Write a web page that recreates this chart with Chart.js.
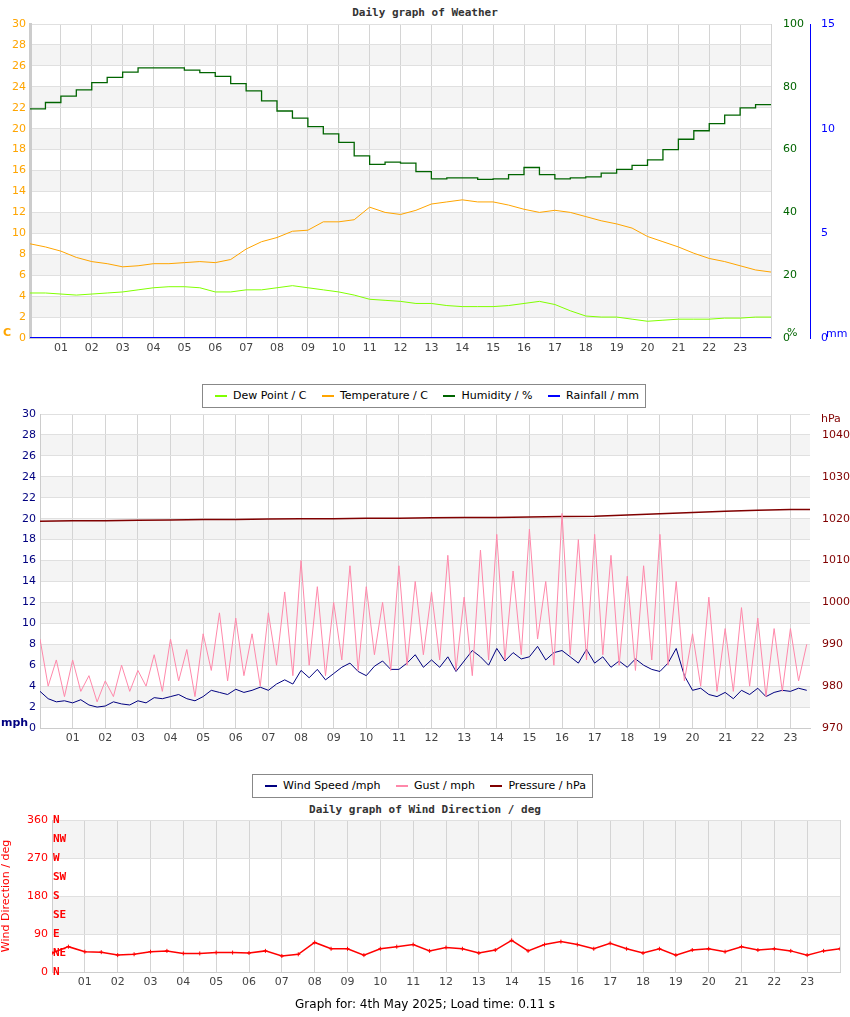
<!DOCTYPE html>
<html lang="en">
<head>
<meta charset="UTF-8" />
<title>Daily graph of Weather</title>
<script src="https://cdn.jsdelivr.net/npm/chart.js"></script>
<style>
  body { margin: 0; background: #fff; font-family: 'DejaVu Sans', sans-serif; }
  #page { position: relative; width: 850px; height: 1017px; }
  canvas { position: absolute; left: 0; }
  .title { position: absolute; left: 0; width: 850px; text-align: center; font: bold 11px 'DejaVu Sans Mono', monospace; color: #333; }
  .lbl { position: absolute; font-size: 11px; }
  .legend { position: absolute; background: #fff; border: 1px solid #888; font-size: 11px; height: 22px; line-height: 22px; padding: 0 6px; white-space: nowrap; z-index: 2; }
  .legend span.sw { display: inline-block; width: 12px; height: 2px; vertical-align: middle; margin: 0 6px 0 6px; }
</style>
</head>
<body>
<div id="page">
  <div class="title" style="top:6px">Daily graph of Weather</div>
  <canvas id="weather" width="850" height="360" style="top:0"></canvas>
  <span class="lbl" style="left:3px;top:326px;color:#ffa500;font-weight:bold">C</span>
  <span class="lbl" style="left:787px;top:326px;color:#006400">%</span>
  <span class="lbl" style="left:826px;top:327px;color:#0000ff">mm</span>

  <div class="legend" style="left:202px;top:384px">
    <span class="sw" style="background:#80ff00"></span>Dew Point / C
    <span class="sw" style="background:#ffa500;margin-left:12px"></span>Temperature / C
    <span class="sw" style="background:#006400;margin-left:12px"></span>Humidity / %
    <span class="sw" style="background:#0000ff;margin-left:12px"></span>Rainfall / mm
  </div>

  <canvas id="wind" width="850" height="350" style="top:400px"></canvas>
  <span class="lbl" style="left:821px;top:412px;color:#800000">hPa</span>
  <span class="lbl" style="left:1px;top:716px;color:#000080;font-weight:bold">mph</span>

  <div class="legend" style="left:252px;top:774px">
    <span class="sw" style="background:#000080"></span>Wind Speed /mph
    <span class="sw" style="background:#ff88aa;margin-left:12px"></span>Gust / mph
    <span class="sw" style="background:#800000;margin-left:12px"></span>Pressure / hPa
  </div>

  <div class="title" style="top:803px">Daily graph of Wind Direction / deg</div>
  <canvas id="dir" width="850" height="200" style="top:800px"></canvas>
  <div class="lbl" style="left:0;width:850px;text-align:center;top:997px;font-size:12px">Graph for: 4th May 2025; Load time: 0.11 s</div>
</div>

<script>
  // half-hourly readings, hour 0..24
  const temperature = [9.0,8.7,8.3,7.7,7.3,7.1,6.8,6.9,7.1,7.1, 7.2,7.3,7.2,7.5,8.5,9.2,9.6,10.2,10.3,11.1,
    11.1,11.3,12.5,12.0,11.8,12.2,12.8,13.0,13.2,13.0, 13.0,12.7,12.3,12.0,12.2,12.0,11.6,11.2,10.9,10.5,
    9.7,9.2,8.7,8.1,7.6,7.3,6.9,6.5,6.3];
  const dewPoint = [4.3,4.3,4.2,4.1,4.2,4.3,4.4,4.6,4.8,4.9, 4.9,4.8,4.4,4.4,4.6,4.6,4.8,5.0,4.8,4.6,
    4.4,4.1,3.7,3.6,3.5,3.3,3.3,3.1,3.0,3.0, 3.0,3.1,3.3,3.5,3.2,2.6,2.1,2.0,2.0,1.8,
    1.6,1.7,1.8,1.8,1.8,1.9,1.9,2.0,2.0];
  const humidity = [73,75,77,79,81.3,83,84.7,86,86,86, 85.3,84.5,83.3,81,78.7,75.5,72.3,70,67.3,65,
    62.3,58,55.3,56,55.7,53,50.7,51,51,50.5, 50.7,52,54.3,52,50.7,51,51.3,52.5,53.7,55,
    56.7,60,63.3,66,68.3,71,73.3,74.3,74.3];
  const rainfall = [0,0,0,0,0,0,0,0,0,0, 0,0,0,0,0,0,0,0,0,0, 0,0,0,0,0,0,0,0,0,0, 0,0,0,0,0,0,0,0,0,0, 0,0,0,0,0,0,0,0,0];

  // quarter-hourly wind, hour 0..23.5
  const windSpeed = [3.5,2.8,2.5,2.6, 2.4,2.7,2.2,2.0, 2.1,2.5,2.3,2.2, 2.6,2.4,2.9,2.8, 3.0,3.2,2.8,2.6,
    3.0,3.6,3.4,3.2, 3.7,3.4,3.6,3.9, 3.6,4.2,4.6,4.2, 5.5,4.8,5.6,4.6, 5.2,5.8,6.2,5.4,
    5.0,5.9,6.4,5.6, 5.6,6.2,7.0,5.8, 6.5,5.8,6.8,5.4, 6.4,7.4,6.8,6.0, 7.6,6.4,7.2,6.6,
    6.8,7.8,6.5,7.2, 7.4,6.8,6.2,7.5, 6.2,6.8,5.8,6.4, 5.8,6.6,6.0,5.6, 5.4,6.2,7.6,5.0,
    3.6,3.8,3.2,3.0, 3.4,2.8,3.6,3.2, 3.8,3.0,3.4,3.6, 3.5,3.8,3.6];
  const gust = [8.5,4.0,6.5,3.0, 6.5,3.5,5.0,2.5, 4.5,3.0,6.0,3.5, 5.5,4.0,7.0,3.5, 8.5,4.5,7.5,3.0,
    9.0,5.5,11.0,4.5, 10.5,5.0,9.0,4.0, 11.0,6.0,13.0,5.0, 16.0,6.0,13.5,5.0, 12.0,6.5,15.5,5.5,
    13.5,7.0,12.0,5.5, 15.5,6.0,14.0,7.0, 13.0,6.5,16.5,5.5, 12.5,5.0,17.0,6.5, 18.5,6.5,15.0,7.0,
    19.0,8.5,14.0,6.0, 20.5,7.0,18.0,6.5, 18.5,7.0,16.5,6.0, 14.5,5.5,15.5,6.5, 18.5,6.0,14.0,4.5,
    9.0,4.0,12.5,3.5, 9.5,3.5,11.5,4.0, 10.5,3.0,9.5,3.5, 9.5,4.5,8.0];
  // hourly pressure, hour 0..23 then 23.6
  const pressureHours = [0,1,2,3,4,5,6,7,8,9,10,11,12,13,14,15,16,17,18,19,20,21,22,23,23.6];
  const pressure = [1019.4,1019.5,1019.5,1019.6,1019.7,1019.8,1019.8,1019.9,1020,1020,1020.1,1020.1,
    1020.2,1020.3,1020.3,1020.4,1020.5,1020.6,1020.9,1021.2,1021.5,1021.8,1022,1022.2,1022.2];

  // half-hourly wind direction, hour 0..24
  const windDir = [45,60,48,47,40,42,48,50,44,44, 46,46,45,50,38,42,70,55,55,40,
    55,60,65,50,58,55,45,52,75,50, 65,72,65,55,68,55,45,55,40,52,
    55,48,60,52,55,50,40,50,55];
  const compass = ['N','NE','E','SE','S','SW','W','NW','N'];

  const halfHours = temperature.map((_, i) => i / 2);
  const quarterHours = windSpeed.map((_, i) => i / 4);
  const pts = (xs, ys) => ys.map((y, i) => ({ x: xs[i], y }));

  Chart.defaults.font.family = "'DejaVu Sans', sans-serif";
  Chart.defaults.font.size = 11;
  Chart.defaults.animation = false;
  Chart.defaults.plugins.legend.display = false;
  Chart.defaults.plugins.tooltip.enabled = false;

  const bands = {
    id: 'bands',
    beforeDraw(chart, args, opts) {
      const { ctx, chartArea: a } = chart;
      const y = chart.scales.y;
      ctx.save();
      ctx.fillStyle = '#f4f4f4';
      opts.list.forEach(([lo, hi]) => {
        const top = y.getPixelForValue(hi), bot = y.getPixelForValue(lo);
        ctx.fillRect(a.left, top, a.right - a.left, bot - top);
      });
      ctx.restore();
    }
  };

  const fix = (prop, v) => s => { s[prop] = v; };

  function xAxis(max, h) {
    return {
      type: 'linear', min: 0, max: max,
      afterFit: fix('height', h),
      afterBuildTicks: s => { s.ticks = []; for (let i = 0; i <= Math.floor(max); i++) s.ticks.push({ value: i }); },
      ticks: { color: '#444', padding: 4, callback: v => (v > 0 && v < 24) ? String(v).padStart(2, '0') : '' },
      grid: { color: '#d4d4d4', drawTicks: false },
      border: { color: '#ccc' }
    };
  }

  const line = (data, color, axis, extra) => Object.assign({
    data, borderColor: color, backgroundColor: color, borderWidth: 1, pointRadius: 0, yAxisID: axis
  }, extra || {});

  new Chart(document.getElementById('weather'), {
    type: 'line',
    data: { datasets: [
      line(pts(halfHours, rainfall), '#0000ff', 'rain', { borderWidth: 2 }),
      line(pts(halfHours, dewPoint), '#80ff00', 'y'),
      line(pts(halfHours, temperature), '#ffa500', 'y'),
      line(pts(halfHours, humidity), '#006400', 'hum', { stepped: true, borderWidth: 1.3 })
    ] },
    options: {
      responsive: false,
      layout: { padding: { top: 24 } },
      scales: {
        x: xAxis(24, 22),
        y: { min: 0, max: 30, afterFit: fix('width', 30),
          ticks: { stepSize: 2, color: '#ffa500', padding: 4 },
          grid: { color: '#e0e0e0', drawTicks: false }, border: { color: '#ccc', width: 3 } },
        hum: { position: 'right', min: 0, max: 100, afterFit: fix('width', 39),
          ticks: { stepSize: 20, color: '#006400', padding: 4 },
          grid: { display: false }, border: { display: false } },
        rain: { position: 'right', min: 0, max: 15, afterFit: fix('width', 40),
          ticks: { stepSize: 5, color: '#0000ff', padding: 3 },
          grid: { display: false }, border: { color: '#0000ff' } }
      },
      plugins: { bands: { list: [[2,4],[6,8],[10,12],[14,16],[18,20],[22,24],[26,28]] } }
    },
    plugins: [bands]
  });

  new Chart(document.getElementById('wind'), {
    type: 'line',
    data: { datasets: [
      line(pts(quarterHours, gust), '#ff88aa', 'y'),
      line(pts(quarterHours, windSpeed), '#000080', 'y'),
      line(pts(pressureHours, pressure), '#800000', 'pres', { borderWidth: 1.5 })
    ] },
    options: {
      responsive: false,
      layout: { padding: { top: 14 } },
      scales: {
        x: xAxis(23.6, 22),
        y: { min: 0, max: 30, afterFit: fix('width', 40),
          ticks: { stepSize: 2, color: '#000080', padding: 4 },
          grid: { color: '#e0e0e0', drawTicks: false }, border: { color: '#ccc' } },
        pres: { position: 'right', min: 970, max: 1045, afterFit: fix('width', 40),
          afterBuildTicks: s => { s.ticks = [970,980,990,1000,1010,1020,1030,1040].map(v => ({ value: v })); },
          ticks: { color: '#800000', padding: 4, callback: v => String(v) },
          grid: { display: false }, border: { display: false } }
      },
      plugins: { bands: { list: [[2,4],[6,8],[10,12],[14,16],[18,20],[22,24],[26,28]] } }
    },
    plugins: [bands]
  });

  const compassLabels = {
    id: 'compassLabels',
    afterDraw(chart) {
      const { ctx, chartArea: a } = chart;
      const y = chart.scales.y;
      ctx.save();
      ctx.fillStyle = '#ff0000';
      ctx.font = "bold 11px 'DejaVu Sans Mono', monospace";
      ctx.textBaseline = 'middle';
      compass.forEach((c, i) => ctx.fillText(c, a.left + 1, y.getPixelForValue(i * 45)));
      ctx.restore();
    }
  };

  new Chart(document.getElementById('dir'), {
    type: 'line',
    data: { datasets: [
      line(pts(halfHours, windDir), '#ff0000', 'y', { borderWidth: 1.5, pointRadius: 2, pointStyle: 'cross', pointBorderWidth: 1 })
    ] },
    options: {
      responsive: false,
      layout: { padding: { top: 20, right: 10 } },
      scales: {
        x: xAxis(24, 28),
        y: { min: 0, max: 360, afterFit: fix('width', 52),
          ticks: { stepSize: 90, color: '#ff0000', padding: 4 },
          title: { display: true, text: 'Wind Direction / deg', color: '#ff0000', font: { size: 11 }, padding: 0 },
          grid: { color: '#e0e0e0', drawTicks: false }, border: { color: '#ccc' } }
      },
      plugins: { bands: { list: [[90,180],[270,360]] } }
    },
    plugins: [bands, compassLabels]
  });
</script>
</body>
</html>
